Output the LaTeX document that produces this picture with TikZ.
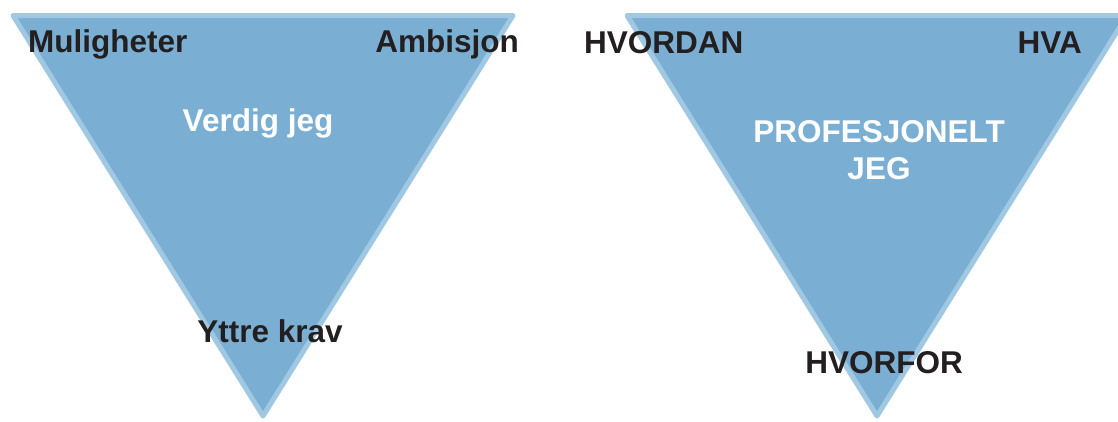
\documentclass[tikz,border=0pt]{standalone}
\usepackage{fontspec}
\setmainfont{Liberation Sans}
\definecolor{trifill}{HTML}{7AAFD3}
\definecolor{triedge}{HTML}{A0C8E2}
\definecolor{darktext}{HTML}{231F20}
\tikzset{
  funnel/.style={fill=trifill, draw=triedge, line width=5pt, line join=round},
  corner/.style={inner sep=0pt, font=\fontsize{31.5}{37}\selectfont\bfseries, text=darktext},
  inner/.style={inner sep=0pt, font=\fontsize{31.5}{37}\selectfont\bfseries, text=white, align=center},
}
\begin{document}
\begin{tikzpicture}[x=1pt, y=-1pt]
  \useasboundingbox (0,0) rectangle (1118,421);
  \begin{scope}
    \clip (0,0) rectangle (1118,421);
    % two inverted triangles
    \draw[funnel] (13,15.5) -- (513,15.5) -- (263,416) -- cycle;
    \draw[funnel] (627,15.5) -- (1127,15.5) -- (877,416) -- cycle;
  \end{scope}
  % left triangle labels
  \node[corner, anchor=base west] (mul) at (28,52) {Muligheter};
  \node[corner, anchor=base east] (amb) at (519,52) {Ambisjon};
  \node[inner, anchor=base] (verdig) at (258,131) {Verdig jeg};
  \node[corner, anchor=base] (krav) at (270,342) {Yttre krav};
  % right triangle labels
  \node[corner, anchor=base west] (hvordan) at (584,53) {HVORDAN};
  \node[corner, anchor=base east] (hva) at (1082,53) {HVA};
  \node[inner, anchor=base] (prof) at (879,179) {PROFESJONELT\\JEG};
  \node[corner, anchor=base] (hvorfor) at (884,373) {HVORFOR};
\end{tikzpicture}
\end{document}
